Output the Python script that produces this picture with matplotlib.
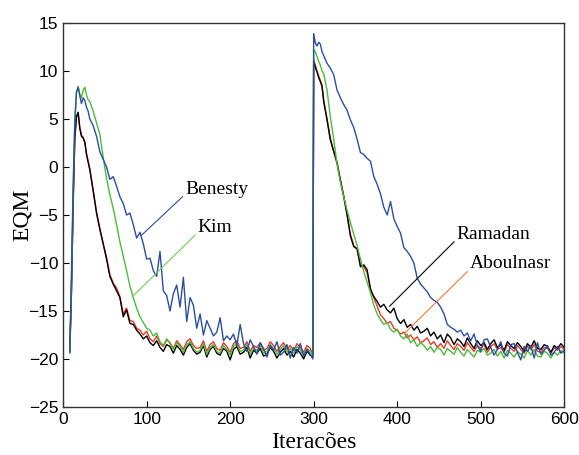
import matplotlib
matplotlib.use("Agg")
import matplotlib.pyplot as plt

iteracoes = ([8, 10, 12, 14, 16, 18, 20, 22, 24, 26, 28, 30]
             + list(range(32, 297, 4))
             + [299, 300, 302, 304, 306, 308, 310]
             + list(range(312, 601, 4)))

ramadan = [
    -19.2, -13.0, -4.0, 3.0, 5.2, 5.7, 4.0, 3.2, 3.0, 2.6, 1.3, 0.5,
    -0.3, -2.5, -4.8, -6.5, -8.0, -9.6, -11.4, -12.2, -12.9, -13.6,
    -15.6, -14.9, -16.3, -16.4, -17.0, -17.4, -17.9, -17.6, -18.3, -18.6,
    -18.1, -18.8, -19.2, -18.5, -18.7, -19.4, -18.6, -19.0, -19.6, -18.8,
    -18.4, -19.1, -19.5, -19.3, -18.6, -19.8, -19.0, -18.7, -19.4, -19.6,
    -18.9, -19.2, -20.1, -19.0, -18.7, -19.5, -19.3, -18.8, -19.9, -19.1,
    -19.4, -18.9, -19.7, -19.5, -18.8, -19.2, -19.9, -19.3, -18.9, -19.6,
    -19.2, -19.8, -19.0, -19.4, -20.0, -19.2, -19.6,
    -19.8, 11.0, 10.4, 9.9, 9.3, 8.9, 8.4,
    6.8, 4.9, 2.8, 1.6, 0.4, -1.4, -3.1, -5.0, -7.2, -8.3,
    -8.5, -10.4, -10.2, -10.7, -12.8, -13.5, -14.0, -14.6, -14.3, -14.9,
    -15.2, -14.7, -15.8, -16.3, -15.9, -16.7, -16.4, -17.0, -16.6, -17.3,
    -17.1, -16.8, -17.6, -17.2, -17.9, -17.5, -18.3, -17.4, -17.8, -18.5,
    -17.9, -18.2, -18.7, -17.8, -18.4, -18.9, -18.1, -18.6, -18.3, -19.0,
    -18.4, -18.0, -18.8, -18.5, -19.1, -18.2, -18.6, -18.9, -18.3, -18.7,
    -19.2, -18.4, -18.8, -18.1, -18.9, -19.0, -18.5, -18.7, -19.3, -18.6,
    -18.9, -18.4, -18.8,
]

aboulnasr = [
    -19.2, -13.0, -4.0, 3.0, 5.3, 5.6, 4.1, 3.3, 3.1, 2.5, 1.4, 0.6,
    -0.2, -2.4, -4.7, -6.4, -8.0, -9.4, -11.2, -12.1, -12.6, -13.5,
    -15.3, -14.7, -16.0, -16.1, -16.8, -17.0, -17.5, -17.1, -17.9, -18.2,
    -17.6, -18.4, -18.7, -18.0, -18.3, -18.9, -18.1, -18.5, -19.0, -18.2,
    -17.9, -18.6, -18.9, -18.8, -18.1, -19.2, -18.5, -18.2, -18.9, -19.1,
    -18.3, -18.7, -19.3, -18.4, -18.1, -18.9, -18.8, -18.2, -19.2, -18.6,
    -18.8, -18.3, -19.1, -18.9, -18.2, -18.6, -19.2, -18.7, -18.3, -19.0,
    -18.6, -19.1, -18.4, -18.8, -19.3, -18.6, -18.9,
    -19.5, 11.2, 10.6, 10.0, 9.5, 9.0, 8.5,
    7.0, 5.0, 3.0, 1.7, 0.5, -1.3, -3.0, -4.9, -7.0, -8.2,
    -8.6, -10.2, -10.4, -11.0, -12.6, -13.6, -14.5, -15.4, -15.8, -16.3,
    -16.1, -16.8, -17.0, -17.4, -17.2, -17.8, -17.5, -18.0, -17.7, -18.3,
    -18.1, -17.8, -18.5, -18.2, -18.8, -18.4, -18.9, -18.1, -18.6, -19.0,
    -18.4, -18.7, -19.1, -18.3, -18.8, -19.2, -18.6, -18.9, -18.5, -19.3,
    -18.7, -18.4, -19.0, -18.8, -19.3, -18.5, -18.9, -19.2, -18.6, -19.0,
    -19.4, -18.7, -19.0, -18.5, -19.2, -19.3, -18.8, -18.9, -19.4, -18.8,
    -19.1, -18.7, -19.0,
]

kim = [
    -19.4, -12.0, -3.0, 5.0, 7.8, 8.4, 7.6, 7.2, 8.0, 8.3, 7.5, 7.0,
    6.8, 5.8, 4.6, 3.4, 1.0, -1.2, -2.9, -4.3, -6.0, -7.8,
    -9.3, -10.8, -12.4, -13.6, -14.7, -15.6, -16.2, -16.8, -17.0, -17.6,
    -17.3, -18.2, -18.6, -17.9, -18.4, -19.0, -18.3, -18.7, -19.3, -18.5,
    -18.2, -18.9, -19.3, -19.1, -18.4, -19.5, -18.8, -18.5, -19.2, -19.4,
    -18.6, -19.0, -19.6, -18.7, -18.4, -19.2, -19.1, -18.5, -19.5, -18.9,
    -19.1, -18.6, -19.4, -19.2, -18.5, -18.9, -19.5, -19.0, -18.6, -19.3,
    -18.9, -19.4, -18.7, -19.1, -19.6, -18.9, -19.2,
    -19.6, 12.2, 12.0, 11.5, 11.0, 10.6, 10.0,
    9.7, 8.0, 5.2, 2.9, 0.3, -1.6, -3.1, -4.5, -5.8, -7.0,
    -8.2, -9.6, -10.9, -12.0, -13.1, -14.4, -15.3, -15.9, -16.4, -16.2,
    -16.9, -17.2, -16.9, -17.6, -17.9, -17.4, -18.3, -18.0, -18.7, -18.3,
    -18.6, -19.1, -18.7, -19.3, -18.8, -19.0, -19.6, -18.9, -19.2, -19.5,
    -18.8, -19.3, -19.7, -19.0, -19.4, -19.8, -19.1, -19.3, -18.9, -19.6,
    -19.4, -19.0, -19.7, -19.2, -19.9, -19.1, -19.4, -19.8, -19.2, -19.5,
    -19.9, -19.1, -19.6, -19.0, -19.7, -19.8, -19.2, -19.4, -19.9, -19.3,
    -19.6, -19.1, -19.4,
]

benesty = [
    -19.3, -11.0, -2.0, 4.5, 7.8, 8.3, 7.4, 6.6, 7.2, 6.9, 6.2, 5.8,
    5.0, 4.3, 3.2, 1.6, 0.8, 0.0, -1.3, -1.0, -2.0, -3.1,
    -3.8, -5.0, -4.8, -6.0, -7.4, -6.8, -8.0, -9.6, -9.5, -10.8,
    -11.4, -8.8, -12.9, -13.4, -15.0, -13.2, -12.3, -14.6, -11.5, -16.1,
    -13.6, -14.4, -16.8, -15.3, -17.5, -16.0, -16.8, -17.6, -17.2, -15.7,
    -18.1, -17.6, -18.0, -17.4, -18.6, -16.4, -18.4, -19.2, -18.0, -18.7,
    -19.5, -18.3, -18.9, -19.8, -18.6, -19.1, -18.2, -19.6, -19.3, -18.5,
    -19.9, -18.8, -19.4, -18.4, -19.7, -19.0, -19.5,
    -20.0, 13.9, 12.9, 12.6, 13.0, 12.8, 12.0,
    11.6, 10.8, 10.3, 9.6, 8.0, 7.2, 6.5, 5.9, 4.9, 4.1,
    2.9, 1.5, 1.3, 0.9, 0.6, -1.0, -1.8, -2.8, -4.2, -5.0,
    -3.6, -5.4, -6.2, -6.9, -8.4, -8.8, -9.3, -10.0, -11.6, -12.2,
    -12.6, -13.0, -13.6, -13.9, -14.1, -14.6, -15.3, -16.4, -16.7, -16.9,
    -17.2, -17.0, -17.6, -17.3, -18.1, -17.4, -18.6, -19.2, -18.0, -17.9,
    -18.8, -19.6, -19.0, -18.2, -19.4, -19.7, -18.5, -18.4, -19.3, -20.1,
    -18.7, -19.2, -18.6, -19.9, -18.3, -19.5, -19.1, -18.6, -19.6, -19.3,
    -18.7, -19.4, -19.1,
]

# label text, anchor on the curve, text position, line colour
rotulos = [
    ("Benesty", (94, -7.1), (146, -2.3), "#2a4fa0"),
    ("Kim", (83, -13.5), (161, -6.3), "#6ccf4f"),
    ("Ramadan", (391, -14.5), (471, -7.0), "black"),
    ("Aboulnasr", (409, -17.3), (487, -10.1), "#f07a3a"),
]

fig = plt.figure(figsize=(5.79, 4.55), dpi=100)
ax = fig.add_axes([0.109, 0.1055, 0.8655, 0.844])

ax.plot(iteracoes, aboulnasr, color="#e8382a", lw=1.0)
ax.plot(iteracoes, ramadan, color="black", lw=1.0)
ax.plot(iteracoes, kim, color="#4cbb3a", lw=1.0)
ax.plot(iteracoes, benesty, color="#2a4fa0", lw=1.0)

for txt, (x0, y0), (x1, y1), cor in rotulos:
    ax.plot([x0, x1 - 3], [y0, y1 - 0.8], color=cor, lw=0.8)
    ax.text(x1, y1, txt, family="Liberation Serif", fontsize=14,
            va="center", ha="left")

ax.set_xlim(0, 600)
ax.set_ylim(-25, 15)
ax.set_xticks(range(0, 601, 100))
ax.set_yticks(range(-25, 16, 5))
ax.tick_params(direction="in", length=4, labelsize=12.5, colors="black")
for lab in ax.get_xticklabels() + ax.get_yticklabels():
    lab.set_family("Liberation Sans")
for s in ax.spines.values():
    s.set_color("#333333")
    s.set_linewidth(1.0)

ax.set_xlabel("Iteracões", family="Liberation Serif", fontsize=17, labelpad=4)
ax.set_ylabel("EQM", family="Liberation Serif", fontsize=17, labelpad=-3)

fig.savefig("out.png", dpi=100)
